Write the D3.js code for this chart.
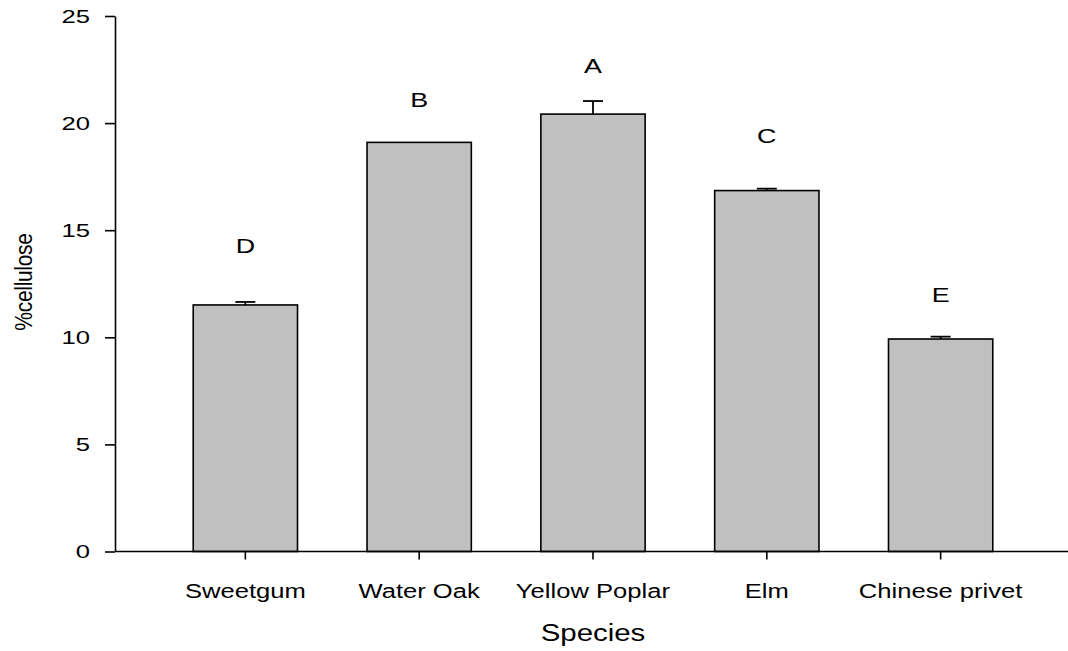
<!DOCTYPE html>
<html>
<head>
<meta charset="utf-8">
<script src="https://cdn.jsdelivr.net/npm/d3@7"></script>
<style>
  html, body { margin: 0; padding: 0; background: #fff; }
  svg { display: block; }
  text { font-family: "Liberation Sans", Arial, sans-serif; fill: #000; }
  .sx { transform-box: fill-box; transform-origin: 50% 50%; transform: scaleX(1.28); }
  .sxr { transform-box: fill-box; transform-origin: 100% 50%; transform: scaleX(1.35); }
</style>
</head>
<body>
<svg id="chart" width="1068" height="651"></svg>
<script>
// ---- data ----
const species = ["Sweetgum", "Water Oak", "Yellow Poplar", "Elm", "Chinese privet"];
const cellulose = [11.51, 19.1, 20.42, 16.85, 9.92];
const stdErr = [0.14, 0, 0.61, 0.09, 0.11];
const groupLetters = ["D", "B", "A", "C", "E"];
const letterLevel = [13.94, 20.75, 22.32, 19.09, 11.65];
const yTicks = [0, 5, 10, 15, 20, 25];
const yTitle = "%cellulose";
const xTitle = "Species";

// ---- layout ----
const svg = d3.select("#chart");
const x0 = 115, x1 = 1071, yTop = 16, yBot = 551.5;

const x = d3.scaleBand().domain(species).range([x0, x1]).paddingInner(0.4).paddingOuter(0.45);
const y = d3.scaleLinear().domain([0, 25]).range([yBot, yTop]);

// bars
svg.append("g").selectAll("rect").data(species).join("rect")
  .attr("x", d => x(d))
  .attr("y", (d, i) => y(cellulose[i]))
  .attr("width", x.bandwidth())
  .attr("height", (d, i) => y(0) - y(cellulose[i]))
  .attr("fill", "#c0c0c0")
  .attr("stroke", "#000")
  .attr("stroke-width", 1.6);

// error bars (upper only)
const eb = svg.append("g").attr("stroke", "#000").attr("stroke-width", 1.8);
species.forEach((d, i) => {
  if (stdErr[i] <= 0) return;
  const cx = x(d) + x.bandwidth() / 2;
  eb.append("line").attr("x1", cx).attr("x2", cx)
    .attr("y1", y(cellulose[i])).attr("y2", y(cellulose[i] + stdErr[i]));
  eb.append("line").attr("x1", cx - 10).attr("x2", cx + 10)
    .attr("y1", y(cellulose[i] + stdErr[i])).attr("y2", y(cellulose[i] + stdErr[i]));
});

// group letters
svg.append("g").selectAll("text").data(species).join("text")
  .attr("class", "sx")
  .attr("x", d => x(d) + x.bandwidth() / 2)
  .attr("y", (d, i) => y(letterLevel[i]))
  .attr("text-anchor", "middle")
  .attr("font-size", 21)
  .text((d, i) => groupLetters[i]);

// y axis
const yAxis = svg.append("g").attr("transform", `translate(${x0},0)`)
  .call(d3.axisLeft(y).tickValues(yTicks).tickSizeInner(10).tickSizeOuter(0).tickPadding(15));
yAxis.select(".domain").attr("stroke", "#000").attr("stroke-width", 1.6);
yAxis.selectAll(".tick line").attr("stroke", "#000").attr("stroke-width", 1.6);
yAxis.selectAll(".tick text").attr("class", "sxr").attr("font-size", 19)
  .attr("font-family", "Liberation Sans, Arial, sans-serif").attr("fill", "#000");

// x axis
const xAxis = svg.append("g").attr("transform", `translate(0,${yBot})`)
  .call(d3.axisBottom(x).tickSizeInner(8).tickSizeOuter(0).tickPadding(24));
xAxis.select(".domain").attr("d", `M${x0},0H1068`).attr("stroke", "#000").attr("stroke-width", 1.6);
xAxis.selectAll(".tick line").attr("stroke", "#000").attr("stroke-width", 1.6);
xAxis.selectAll(".tick text").attr("class", "sx").attr("font-size", 20)
  .attr("font-family", "Liberation Sans, Arial, sans-serif").attr("fill", "#000");

// titles
svg.append("text").attr("class", "sx")
  .attr("x", 593).attr("y", 641)
  .attr("text-anchor", "middle").attr("font-size", 23)
  .text(xTitle);

svg.append("text")
  .attr("transform", "translate(32,282) rotate(-90) scale(1,1.12)")
  .attr("text-anchor", "middle").attr("font-size", 21)
  .attr("letter-spacing", -0.3)
  .text(yTitle);
</script>
</body>
</html>
